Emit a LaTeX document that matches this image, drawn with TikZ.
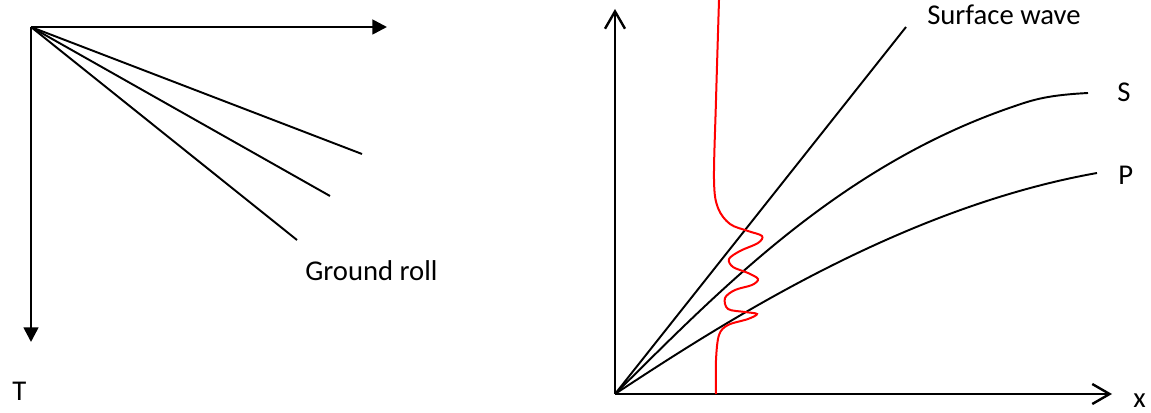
\documentclass[tikz,border=0pt]{standalone}
\usepackage{fontspec}
\setmainfont{Carlito}
\usetikzlibrary{arrows.meta}
\definecolor{wavered}{RGB}{255,0,0}

\begin{document}
\begin{tikzpicture}[x=0.75pt,y=0.75pt,yscale=-1,xscale=1,
  lbl/.style={anchor=base west,inner sep=0pt,font=\fontsize{21.5}{26}\selectfont},
  filledaxis/.style={line width=2pt,-{Triangle[length=11pt,width=11pt]}},
  openaxis/.style={line width=1.8pt,-{Straight Barb[length=13pt,width=15pt]}},
  ray/.style={line width=1.45pt}]
\useasboundingbox (0,0) rectangle (1151,413);

%Points [left panel]
\coordinate (oL) at (31,27);
\coordinate (tEnd) at (31,342);
\coordinate (xEnd) at (387,27);
\coordinate (gA) at (362,154);
\coordinate (gB) at (330,196);
\coordinate (gC) at (297,240);
%Points [right panel]
\coordinate (oR) at (615,394);
\coordinate (yTop) at (615,9);
\coordinate (xRight) at (1112,394);
\coordinate (swEnd) at (906,27);
\coordinate (sKnee) at (1015,106);
\coordinate (sEnd) at (1088,93);
\coordinate (pEnd) at (1097,173);

%Straight Lines [axes, left]
\draw [filledaxis] (oL) -- (tEnd);
\draw [filledaxis] (oL) -- (xEnd);
%Straight Lines [ground roll]
\draw [ray] (oL) -- (gA);
\draw [ray] (oL) -- (gB);
\draw [ray] (oL) -- (gC);

%Straight Lines [axes, right]
\draw [openaxis] (oR) -- (yTop);
\draw [openaxis] (oR) -- (xRight);
%Straight Lines [surface wave]
\draw [ray] (oR) -- (swEnd);
%Curve Lines [S]
\draw [ray] (oR) .. controls (720,290) and (840,165) .. (sKnee) .. controls (1035,99) and (1050,95) .. (sEnd);
%Curve Lines [P]
\draw [ray] (oR) .. controls (720,325) and (900,208) .. (pEnd);
%Curve Lines [trace]
\draw [wavered,line width=1.5pt] plot [smooth,tension=0.55] coordinates {(719,0) (716,100) (714,180) (718,208) (730,224) (748,231) (762,236) (758,243) (740,251) (729,259) (733,267) (748,273) (758,279) (752,285) (735,290) (725,298) (728,309) (745,312) (757,314) (748,319) (728,325) (719,335) (716,360) (716,394)};

% Text Node
\draw (305,280) node (ground) [lbl] {Ground roll};
% Text Node
\draw (12,400) node (tLbl) [lbl] {T};
% Text Node
\draw (927,25) node (surf) [lbl] {Surface wave};
% Text Node
\draw (1117,102) node (sLbl) [lbl] {S};
% Text Node
\draw (1118,185) node (pLbl) [lbl] {P};
% Text Node
\draw (1133,407) node (xLbl) [lbl] {x};

\end{tikzpicture}
\end{document}
